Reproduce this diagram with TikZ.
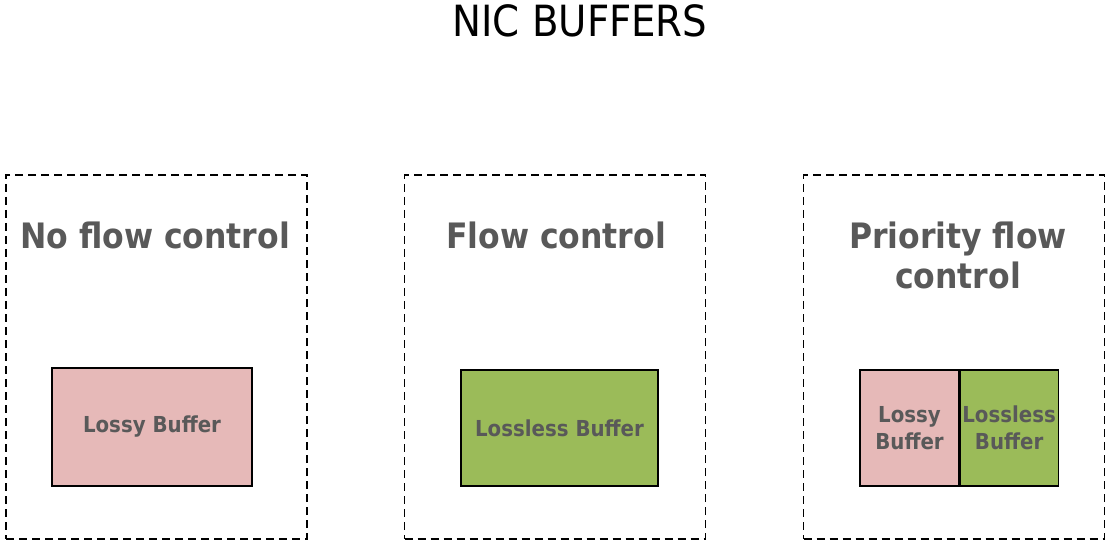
\documentclass[tikz,border=0pt]{standalone}
\usepackage{fontspec}
\setmainfont{DejaVu Sans Condensed}
\usepackage{tikz}

\definecolor{lossy}{HTML}{E6B9B8}
\definecolor{lossless}{HTML}{9BBB59}
\definecolor{txtgray}{HTML}{595959}

\begin{document}
\begin{tikzpicture}[x=1pt, y=-1pt,
    frame/.style={draw, dash pattern=on 8pt off 5pt, line width=1.3pt,
        minimum width=301pt, minimum height=364pt, inner sep=0pt},
    head/.style={text=txtgray, align=center, inner sep=0pt,
        font=\bfseries\fontsize{35}{40}\selectfont},
    buf/.style={draw, line width=1.1pt, inner sep=0pt, text=txtgray,
        align=center, font=\bfseries\fontsize{22}{27}\selectfont},
    lossybuf/.style={buf, fill=lossy},
    losslessbuf/.style={buf, fill=lossless},
]
    \useasboundingbox (0,0) rectangle (1110,545);

    \node [anchor=base, inner sep=0pt, font=\fontsize{43}{48}\selectfont] (title) at (580,37) {NIC BUFFERS};

    % no flow control
    \node [frame] (nofc) at (156.5,357) {};
    \node [head, anchor=base] (nofchead) at (155,248) {No flow control};
    \node [lossybuf, minimum width=200pt, minimum height=118pt] (nofcbuf) at (152,427) {Lossy Buffer};

    % flow control
    \node [frame] (fc) at (555,357) {};
    \node [head, anchor=base] (fchead) at (556,248) {Flow control};
    \node [losslessbuf, minimum width=197pt, minimum height=116pt] (fcbuf) at (559.5,428) {Lossless Buffer};

    % priority flow control
    \node [frame] (pfc) at (954,357) {};
    \node [head, anchor=base] (pfchead) at (958,288) {Priority flow\\control};
    \node [lossybuf, minimum width=99pt, minimum height=116pt] (pfclossy) at (909.5,428) {Lossy\\Buffer};
    \node [losslessbuf, minimum width=98pt, minimum height=116pt, anchor=west] (pfclossless) at (pfclossy.east) {Lossless\\Buffer};
\end{tikzpicture}
\end{document}
